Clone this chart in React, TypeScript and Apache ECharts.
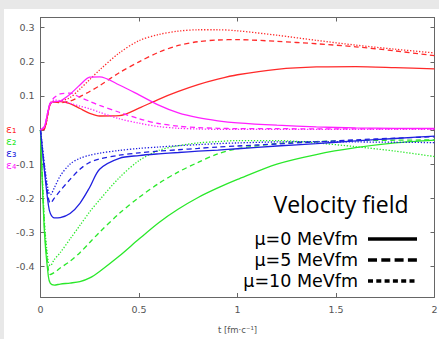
import React, { useEffect, useRef } from "react";
import * as echarts from "echarts";

// time axis [fm/c]
const T = [0, 0.02, 0.04, 0.05, 0.07, 0.1, 0.15, 0.2, 0.25, 0.3, 0.4, 0.5, 0.6, 0.7, 0.8, 0.9, 1.0, 1.2, 1.4, 1.6, 1.8, 2.0];

// epsilon_1 (red)
const eps1Mu0 = [0, 0.003, 0.055, 0.078, 0.083, 0.083, 0.077, 0.063, 0.049, 0.041, 0.042, 0.064, 0.09, 0.113, 0.133, 0.149, 0.162, 0.178, 0.185, 0.186, 0.183, 0.179];
const eps1Mu5 = [0, 0.003, 0.055, 0.076, 0.082, 0.08, 0.085, 0.098, 0.113, 0.13, 0.168, 0.2, 0.228, 0.248, 0.259, 0.264, 0.265, 0.26, 0.253, 0.244, 0.232, 0.218];
const eps1Mu10 = [0, 0.003, 0.055, 0.076, 0.082, 0.084, 0.095, 0.12, 0.148, 0.176, 0.226, 0.262, 0.28, 0.29, 0.294, 0.294, 0.291, 0.278, 0.263, 0.249, 0.237, 0.226];
// epsilon_2 (green)
const eps2Mu0 = [0, -0.3, -0.43, -0.45, -0.455, -0.452, -0.449, -0.445, -0.434, -0.415, -0.37, -0.32, -0.272, -0.232, -0.198, -0.17, -0.145, -0.1, -0.072, -0.052, -0.038, -0.03];
const eps2Mu5 = [0, -0.28, -0.41, -0.424, -0.418, -0.405, -0.385, -0.36, -0.33, -0.3, -0.245, -0.198, -0.157, -0.123, -0.095, -0.07, -0.055, -0.04, -0.034, -0.031, -0.03, -0.029];
const eps2Mu10 = [0, -0.27, -0.39, -0.398, -0.38, -0.36, -0.32, -0.28, -0.24, -0.205, -0.14, -0.09, -0.06, -0.046, -0.038, -0.034, -0.031, -0.031, -0.038, -0.049, -0.062, -0.078];
// epsilon_3 (blue)
const eps3Mu0 = [0, -0.12, -0.22, -0.245, -0.258, -0.257, -0.245, -0.215, -0.168, -0.115, -0.083, -0.075, -0.07, -0.066, -0.062, -0.059, -0.055, -0.047, -0.04, -0.032, -0.025, -0.018];
const eps3Mu5 = [0, -0.11, -0.2, -0.215, -0.2, -0.178, -0.145, -0.115, -0.095, -0.085, -0.074, -0.067, -0.062, -0.058, -0.054, -0.05, -0.047, -0.041, -0.035, -0.029, -0.024, -0.02];
const eps3Mu10 = [0, -0.1, -0.18, -0.19, -0.17, -0.135, -0.1, -0.083, -0.074, -0.068, -0.06, -0.054, -0.05, -0.046, -0.043, -0.04, -0.038, -0.035, -0.034, -0.035, -0.036, -0.037];
// epsilon_4 (magenta)
const eps4Mu0 = [0, 0.01, 0.06, 0.078, 0.083, 0.085, 0.105, 0.132, 0.155, 0.156, 0.132, 0.103, 0.073, 0.05, 0.036, 0.027, 0.021, 0.014, 0.009, 0.006, 0.005, 0.005];
const eps4Mu5 = [0, 0.01, 0.06, 0.08, 0.095, 0.106, 0.108, 0.096, 0.084, 0.072, 0.052, 0.033, 0.019, 0.011, 0.007, 0.005, 0.004, 0.004, 0.003, 0.003, 0.003, 0.003];
const eps4Mu10 = [0, 0.01, 0.06, 0.08, 0.088, 0.086, 0.078, 0.07, 0.062, 0.052, 0.033, 0.02, 0.01, 0.005, 0.003, 0.002, 0.002, 0.002, 0.002, 0.002, 0.002, 0.002];

const EPS_LABELS = ["ε₁", "ε₂", "ε₃", "ε₄"];
const EPS_COLORS = ["#ff2a2a", "#2ae82a", "#2020e0", "#ff20ff"];
const MU_LABELS = ["μ=0 MeVfm", "μ=5 MeVfm", "μ=10 MeVfm"];
const X_TICKS = [0, 0.5, 1, 1.5, 2];

const CURVES = [
  [eps1Mu0, eps1Mu5, eps1Mu10],
  [eps2Mu0, eps2Mu5, eps2Mu10],
  [eps3Mu0, eps3Mu5, eps3Mu10],
  [eps4Mu0, eps4Mu5, eps4Mu10],
];

const DASHES: any[] = ["solid", [5, 3.5], [1.3, 1.7]];
const LEGEND_DASHES: any[] = [null, [9, 4.3], [5, 3.3]];

export default function App() {
  const ref = useRef<HTMLDivElement>(null);
  useEffect(() => {
    if (!ref.current) return;
    const chart = echarts.init(ref.current, undefined, { renderer: "svg" });
    const series: any[] = [];
    CURVES.forEach((set, ci) => {
      set.forEach((vals, mi) => {
        series.push({
          type: "line",
          name: EPS_LABELS[ci] + " " + MU_LABELS[mi],
          data: T.map((t, i) => [t, vals[i]]),
          showSymbol: false,
          smooth: 0.3,
          xAxisIndex: 0,
          yAxisIndex: 0,
          lineStyle: { color: EPS_COLORS[ci], width: 1.3, type: DASHES[mi] },
          itemStyle: { color: EPS_COLORS[ci] },
          z: 3,
        });
      });
    });

    const axisLine = { show: true, onZero: false, lineStyle: { color: "#666", width: 1 } };
    const tick = { show: true, inside: true, length: 4, lineStyle: { color: "#666", width: 1 } };
    const labelStyle = { color: "#555", fontSize: 9.5, fontFamily: "DejaVu Sans" };

    const graphic: any[] = [];
    EPS_LABELS.forEach((lab, i) => {
      graphic.push({
        type: "text",
        left: 6,
        top: 124 + i * 12,
        style: { text: lab, fill: EPS_COLORS[i], font: "11px 'DejaVu Sans'" },
      });
    });
    graphic.push({
      type: "text",
      x: 341,
      y: 204,
      style: {
        text: "Velocity field",
        fill: "#000",
        font: "23px 'Open Sans'",
        textAlign: "center",
        textVerticalAlign: "middle",
      },
    });
    MU_LABELS.forEach((lab, i) => {
      const y = 238.5 + i * 21;
      graphic.push({
        type: "text",
        x: 358,
        y,
        style: {
          text: lab,
          fill: "#000",
          font: "17.5px 'DejaVu Sans'",
          textAlign: "right",
          textVerticalAlign: "middle",
        },
      });
      graphic.push({
        type: "line",
        shape: { x1: 368, y1: y + 0.5, x2: 417, y2: y + 0.5 },
        style: { stroke: "#000", lineWidth: 3.6, lineDash: LEGEND_DASHES[i] || undefined },
      });
    });

    chart.setOption({
      animation: false,
      backgroundColor: "transparent",
      grid: { left: 40.5, right: 4.5, top: 17.5, bottom: 42, containLabel: false, outerBoundsMode: "none" },
      xAxis: [
        {
          type: "value",
          min: X_TICKS[0],
          max: X_TICKS[X_TICKS.length - 1],
          interval: 0.5,
          position: "bottom",
          axisLine,
          axisTick: tick,
          splitLine: { show: false },
          axisLabel: { ...labelStyle, margin: 7 },
          name: "t [fm·c⁻¹]",
          nameLocation: "middle",
          nameGap: 28,
          nameTextStyle: { color: "#555", fontSize: 8.5, fontFamily: "DejaVu Sans" },
        },
        {
          type: "value",
          min: X_TICKS[0],
          max: X_TICKS[X_TICKS.length - 1],
          interval: 0.5,
          position: "top",
          axisLine,
          axisTick: tick,
          splitLine: { show: false },
          axisLabel: { show: false },
        },
      ],
      yAxis: [
        {
          type: "value",
          min: -0.49,
          max: 0.33,
          splitNumber: 8,
          position: "left",
          axisLine,
          axisTick: tick,
          splitLine: { show: false },
          axisLabel: { ...labelStyle, margin: 6, showMinLabel: false, showMaxLabel: false },
        },
        {
          type: "value",
          min: -0.49,
          max: 0.33,
          splitNumber: 8,
          position: "right",
          axisLine,
          axisTick: tick,
          splitLine: { show: false },
          axisLabel: { show: false },
        },
      ],
      series,
      graphic,
    });
    return () => chart.dispose();
  }, []);

  return (
    <div style={{ position: "fixed", left: 0, top: 0, width: 439, height: 339, background: "#e8e8e8" }}>
      <div style={{ position: "absolute", left: 4, top: 9, right: 0, bottom: 0, background: "#fff" }} />
      <div ref={ref} style={{ position: "absolute", left: 0, top: 0, width: 439, height: 339 }} />
    </div>
  );
}
